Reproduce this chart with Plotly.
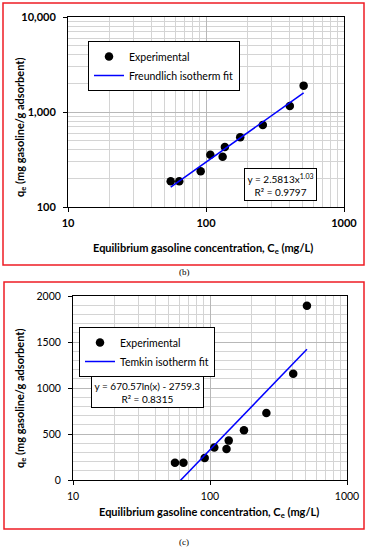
import numpy as np
import plotly.graph_objects as go

# ---- data ----
ce = [55.5, 64, 91.5, 107.5, 132, 137, 177, 258, 405, 510]          # mg/L
qe = [187, 187, 238, 354, 338, 428, 541, 728, 1155, 1895]           # mg/g
freundlich_K, freundlich_n = 2.5813, 1.03
temkin_B, temkin_A = 670.57, -2759.3

x_ticks = [10, 100, 1000]
x_ticklabels = ["10", "100", "1000"]
y1_ticks = [100, 1000, 10000]
y1_ticklabels = ["100", "1,000", "10,000"]
y2_ticks = [0, 500, 1000, 1500, 2000]

x_minor = [m * d for d in (10, 100) for m in range(2, 10)]
y1_minor = [m * d for d in (100, 1000) for m in range(2, 10)]
y2_minor = [v for v in range(0, 2001, 100) if v % 500]

# ---- fit curves from the fitted parameters ----
xfit = np.geomspace(min(ce), max(ce), 60)
y_freund = freundlich_K * xfit ** freundlich_n
y_temkin = temkin_B * np.log(xfit) + temkin_A

FONT = "Lato"
W, H = 369, 550

fig = go.Figure()
fig.add_trace(go.Scatter(x=ce, y=qe, mode="markers", name="Experimental",
                         marker=dict(color="black", size=8.5), xaxis="x", yaxis="y",
                         legend="legend"))
fig.add_trace(go.Scatter(x=xfit, y=y_freund, mode="lines", name="Freundlich isotherm fit",
                         line=dict(color="#0000ff", width=1.5), xaxis="x", yaxis="y",
                         legend="legend"))
fig.add_trace(go.Scatter(x=ce, y=qe, mode="markers", name="Experimental",
                         marker=dict(color="black", size=8.5), xaxis="x2", yaxis="y2",
                         legend="legend2"))
fig.add_trace(go.Scatter(x=xfit, y=y_temkin, mode="lines", name="Temkin isotherm fit",
                         line=dict(color="#0000ff", width=1.5), xaxis="x2", yaxis="y2",
                         legend="legend2"))

grid_major = "#b8b8b8"
grid_minor = "#d4d4d4"

def axis_common(bold, standoff, size):
    return dict(
        automargin=False,
        showline=True, linecolor="black", linewidth=1, mirror=True,
        showgrid=True, gridcolor=grid_major, gridwidth=1,
        ticks="outside", ticklen=4, tickcolor="black",
        ticklabelstandoff=standoff,
        tickfont=dict(family=FONT, size=size, color="black", weight="bold" if bold else "normal"),
        zeroline=False,
    )

xtitle = "Equilibrium gasoline concentration, C<sub>e</sub> (mg/L)"
ytitle = "q<sub>e</sub> (mg gasoline/g adsorbent)"
title_font = dict(family=FONT, size=11, color="black", weight="bold")
legend_font = dict(family=FONT, size=10.5, color="black")

fig.update_layout(
    width=W, height=H,
    margin=dict(l=0, r=0, t=0, b=0, autoexpand=False),
    paper_bgcolor="white", plot_bgcolor="white",
    showlegend=True,
    xaxis=dict(type="log", range=[1, 3], domain=[68 / W, 344 / W], anchor="y",
               tickvals=x_ticks, ticktext=x_ticklabels,
               minor=dict(tickvals=x_minor, showgrid=True, gridcolor=grid_minor, ticks=""),
               **axis_common(True, 2, 11)),
    yaxis=dict(type="log", range=[2, 4], domain=[1 - 207 / H, 1 - 17 / H], anchor="x",
               tickvals=y1_ticks, ticktext=y1_ticklabels,
               minor=dict(tickvals=y1_minor, showgrid=True, gridcolor=grid_minor, ticks=""),
               **axis_common(True, 5, 11)),
    xaxis2=dict(type="log", range=[1, 3], domain=[73 / W, 347 / W], anchor="y2",
                tickvals=x_ticks, ticktext=x_ticklabels,
                minor=dict(tickvals=x_minor, showgrid=True, gridcolor=grid_minor, ticks=""),
                **axis_common(False, 2, 10.5)),
    yaxis2=dict(range=[0, 2000], domain=[1 - 480 / H, 1 - 296 / H], anchor="x2",
                tickvals=y2_ticks,
                minor=dict(tickvals=y2_minor, showgrid=True, gridcolor=grid_minor, ticks=""),
                **axis_common(False, 5, 10.5)),
    legend=dict(x=88 / W, y=1 - 41 / H, xanchor="left", yanchor="top",
                bordercolor="black", borderwidth=1, bgcolor="white",
                font=legend_font, itemwidth=30, tracegroupgap=0),
    legend2=dict(x=79 / W, y=1 - 327 / H, xanchor="left", yanchor="top",
                 bordercolor="black", borderwidth=1, bgcolor="white",
                 font=legend_font, itemwidth=30, tracegroupgap=0),
)

# axis titles
for txt, xpx, ypx, ang in ((xtitle, 203, 248, 0), (ytitle, 21, 128, -90),
                           (xtitle, 209, 512, 0), (ytitle, 20, 399, -90)):
    fig.add_annotation(xref="paper", yref="paper", x=xpx / W, y=1 - ypx / H,
                       xanchor="center", yanchor="middle", showarrow=False,
                       text=txt, textangle=ang, font=title_font)

# equation boxes
fig.add_annotation(xref="paper", yref="paper", x=280 / W, y=1 - 184.5 / H,
                   xanchor="center", yanchor="middle", showarrow=False,
                   text="y = 2.5813x<sup>1.03</sup><br>R² = 0.9797",
                   font=dict(family=FONT, size=10, color="black"),
                   bordercolor="black", borderwidth=1, bgcolor="white", borderpad=2.5)
fig.add_annotation(xref="paper", yref="paper", x=147 / W, y=1 - 391.5 / H,
                   xanchor="center", yanchor="middle", showarrow=False,
                   text="y = 670.57ln(x) - 2759.3<br>R² = 0.8315",
                   font=dict(family=FONT, size=10, color="black"),
                   bordercolor="black", borderwidth=1, bgcolor="white", borderpad=2.5)

# panel labels
for lbl, ypx in (("(b)", 272), ("(c)", 542)):
    fig.add_annotation(xref="paper", yref="paper", x=184 / W, y=1 - ypx / H,
                       xanchor="center", yanchor="middle", showarrow=False, text=lbl,
                       font=dict(family="Liberation Serif", size=9, color="black"))

# red frames
fig.add_shape(type="rect", xref="paper", yref="paper",
              x0=3 / W, x1=364 / W, y0=1 - 265 / H, y1=1 - 3 / H,
              line=dict(color="#ee1c24", width=1.5), layer="above")
fig.add_shape(type="rect", xref="paper", yref="paper",
              x0=4 / W, x1=364 / W, y0=1 - 529 / H, y1=1 - 282 / H,
              line=dict(color="#ee1c24", width=1.5), layer="above")

fig.write_html(
    "out.html",
    config={"displayModeBar": False},
    post_script="document.documentElement.style.margin='0';"
                "document.body.style.margin='0';"
                "document.body.style.overflow='hidden';",
)
